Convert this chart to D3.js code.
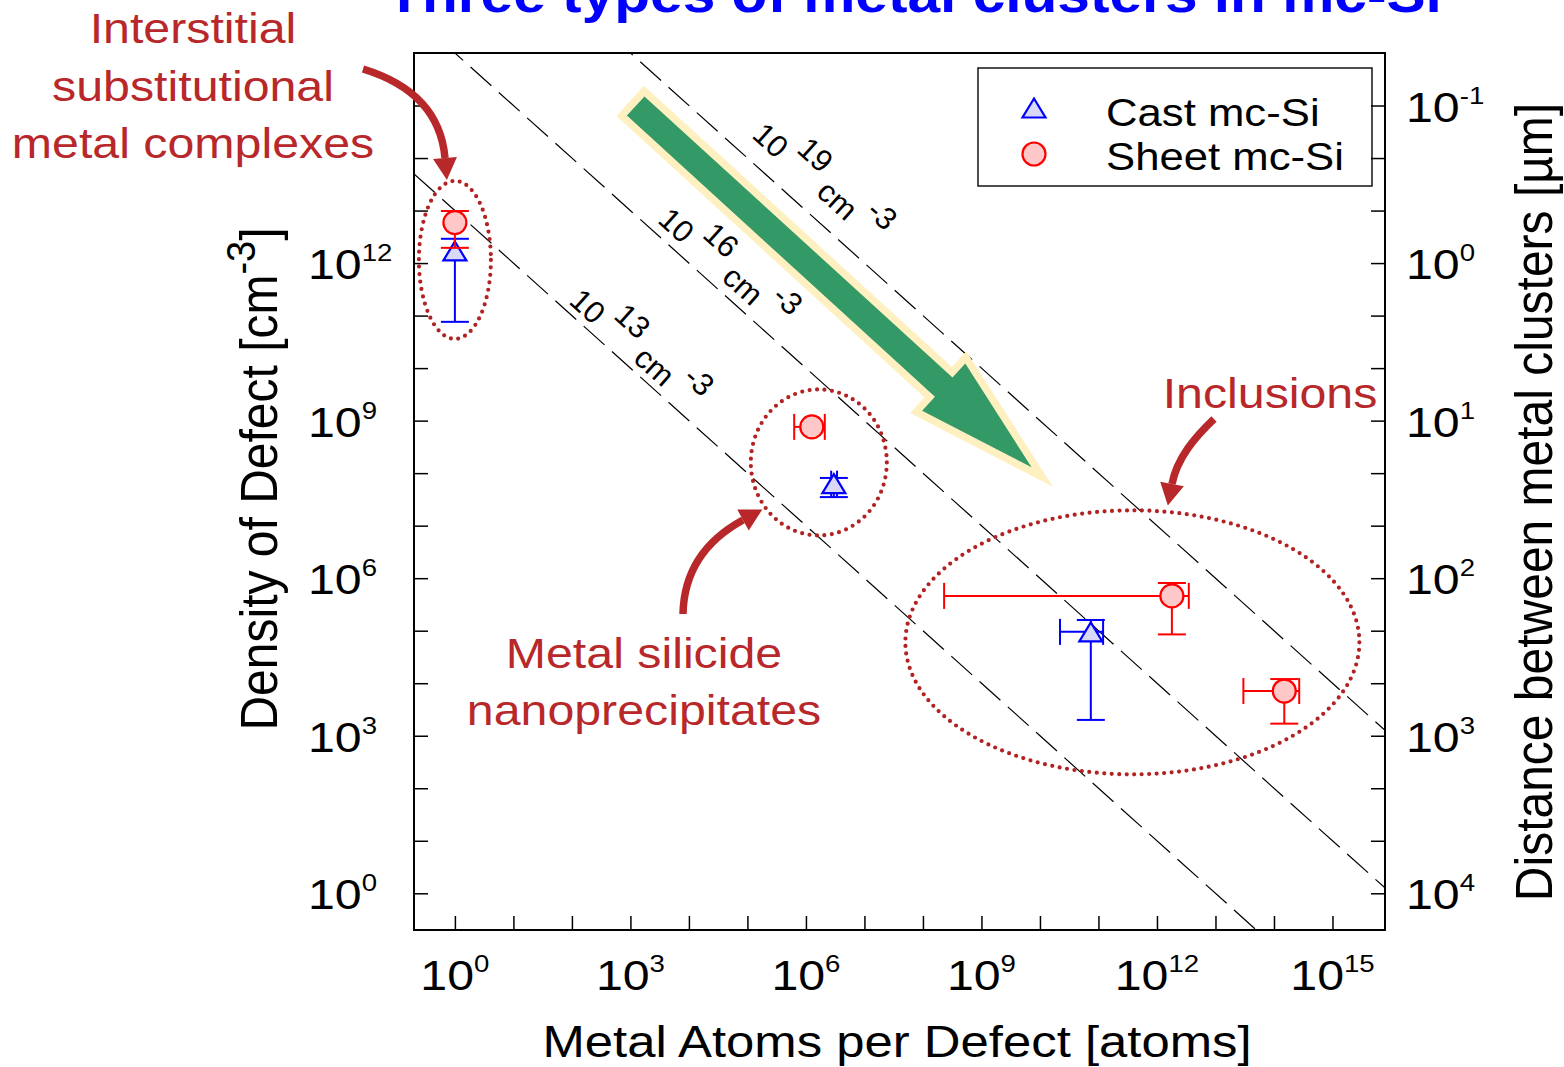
<!DOCTYPE html>
<html>
<head>
<meta charset="utf-8">
<script src="https://cdn.jsdelivr.net/npm/d3@7"></script>
<style>
  html, body { margin: 0; padding: 0; background: #ffffff; }
  svg { display: block; font-family: "Liberation Sans", Arial, Helvetica, sans-serif; }
</style>
</head>
<body>
<svg id="chart" width="1564" height="1067"></svg>
<script>
// ---- Data: metal atoms per defect (x) vs. density of defects (y) ----
// Cast mc-Si
const castAtoms     = [1, 3.0e6, 7.4e10];
const castAtomsLo   = [null, 2.7e6, 2.2e10];
const castAtomsHi   = [null, 3.4e6, 1.2e11];
const castDensity   = [1.7e12, 6.3e7, 9.5e4];
const castDensityLo = [7.6e10, 3.5e7, 2.0e3];
const castDensityHi = [2.9e12, 8.1e7, 1.6e5];

// Sheet mc-Si
const sheetAtoms     = [1, 1.26e6, 1.8e12, 1.5e14];
const sheetAtomsLo   = [null, 6.3e5, 2.3e8, 3.0e13];
const sheetAtomsHi   = [null, 2.1e6, 3.5e12, 2.7e14];
const sheetDensity   = [5.9e12, 7.6e8, 4.6e5, 7.1e3];
const sheetDensityLo = [1.95e12, null, 8.5e4, 1.7e3];
const sheetDensityHi = [9.8e12, null, 8.1e5, 1.2e4];

// Iso-concentration lines (total metal concentration, cm^-3)
const concentrations   = [1e13, 1e16, 1e19];
const concExponents    = ["13", "16", "19"];
const concLabelAnchors = [[85, 1.75e11], [2.78e3, 6.1e12], [1.14e5, 2.55e14]];

// Axes
const xDomain = [0.2, 7.9e15];
const yDomain = [0.2, 1e16];
const xTickExponents    = ["0", "3", "6", "9", "12", "15"];
const yTickExponents    = ["0", "3", "6", "9", "12"];
const distTickExponents = ["-1", "0", "1", "2", "3", "4"];

// Trend arrow (from small clusters at high density to large clusters at low density)
const trendFrom = [1.23e3, 9.8e14];
const trendTo   = [7.2e9, 1.29e8];

// ---- Layout ----
const plot = { left: 414, right: 1385, top: 53, bottom: 930 };
const NOTE = "#B8282A";
const TEXT_SX = 1.15;

const svg = d3.select("#chart");
const x = d3.scaleLog().domain(xDomain).range([plot.left, plot.right]);
const y = d3.scaleLog().domain(yDomain).range([plot.bottom, plot.top]);
// distance between clusters in µm: d = 1e4 * N^(-1/3)
const toDist = n => 1e4 * Math.pow(n, -1 / 3);
const yDist = d3.scaleLog().domain([toDist(yDomain[0]), toDist(yDomain[1])]).range([plot.bottom, plot.top]);

svg.append("defs").append("clipPath").attr("id", "plotClip")
  .append("rect")
  .attr("x", plot.left).attr("y", plot.top)
  .attr("width", plot.right - plot.left).attr("height", plot.bottom - plot.top);

// ---- Title (runs off the top edge of the page) ----
svg.append("text")
  .attr("transform", `translate(914,12) scale(${TEXT_SX},1)`)
  .attr("text-anchor", "middle")
  .attr("font-size", 51).attr("font-weight", "bold").attr("fill", "#0000ff")
  .text("Three types of metal clusters in mc-Si");

const inner = svg.append("g").attr("clip-path", "url(#plotClip)");

// ---- Iso-concentration dashed lines ----
const line = d3.line().x(d => x(d[0])).y(d => y(d[1]));
concentrations.forEach(c => {
  inner.append("path")
    .attr("d", line([[xDomain[0], c / xDomain[0]], [xDomain[1], c / xDomain[1]]]))
    .attr("fill", "none").attr("stroke", "#000").attr("stroke-width", 1.2)
    .attr("stroke-dasharray", "28,10");
});

const slopeDeg = Math.atan2(y(0.1) - y(1), x(10) - x(1)) * 180 / Math.PI;
concentrations.forEach((c, i) => {
  const [ax, ay] = concLabelAnchors[i];
  const t = svg.append("text")
    .attr("transform", `translate(${x(ax)},${y(ay)}) rotate(${slopeDeg})`)
    .attr("font-size", 31).attr("fill", "#000");
  t.append("tspan").text("10\u00A0");
  t.append("tspan").attr("dy", -19).text(concExponents[i]);
  t.append("tspan").attr("dy", 19).text("\u00A0cm\u00A0");
  t.append("tspan").attr("dy", -19).text("-3");
});

// ---- Trend arrow ----
(function () {
  const p0 = [x(trendFrom[0]), y(trendFrom[1])];
  const p1 = [x(trendTo[0]), y(trendTo[1])];
  const dx = p1[0] - p0[0], dy = p1[1] - p0[1];
  const L = Math.hypot(dx, dy);
  const u = [dx / L, dy / L], n = [-u[1], u[0]];
  const hw = 13, hh = 32, hl = 119;
  const base = [p1[0] - u[0] * hl, p1[1] - u[1] * hl];
  const pt = (p, k) => [p[0] + n[0] * k, p[1] + n[1] * k];
  const poly = [pt(p0, hw), pt(base, hw), pt(base, hh), p1, pt(base, -hh), pt(base, -hw), pt(p0, -hw)];
  const d = "M" + poly.map(p => p.join(",")).join("L") + "Z";
  svg.append("path").attr("d", d).attr("fill", "#FEF0C0")
    .attr("stroke", "#FEF0C0").attr("stroke-width", 15).attr("stroke-linejoin", "miter");
  svg.append("path").attr("d", d).attr("fill", "#339966");
})();

// ---- Cluster-group ellipses (dotted) ----
const groups = [
  { cx: 1, cy: 1.15e12, rx: 36, ry: 79 },
  { cx: 1.66e6, cy: 1.6e8, rx: 68, ry: 73 },
  { cx: 3.8e11, cy: 6.0e4, rx: 227, ry: 132 }
];
groups.forEach(g => {
  svg.append("ellipse")
    .attr("cx", x(g.cx)).attr("cy", y(g.cy)).attr("rx", g.rx).attr("ry", g.ry)
    .attr("fill", "none").attr("stroke", "#B22222").attr("stroke-width", 4.2)
    .attr("stroke-linecap", "round").attr("stroke-dasharray", "0,7.5");
});

// ---- Data with error bars ----
function drawSeries(atoms, atomsLo, atomsHi, dens, densLo, densHi, color, marker) {
  const g = svg.append("g").attr("stroke", color).attr("stroke-width", 2).attr("fill", "none");
  atoms.forEach((a, i) => {
    const px = x(a), py = y(dens[i]);
    if (atomsLo[i] != null) {
      const l = x(atomsLo[i]), r = x(atomsHi[i]);
      g.append("line").attr("x1", l).attr("x2", r).attr("y1", py).attr("y2", py);
      g.append("line").attr("x1", l).attr("x2", l).attr("y1", py - 13).attr("y2", py + 13);
      g.append("line").attr("x1", r).attr("x2", r).attr("y1", py - 13).attr("y2", py + 13);
    }
    if (densLo[i] != null) {
      const b = y(densLo[i]), t = y(densHi[i]);
      g.append("line").attr("x1", px).attr("x2", px).attr("y1", t).attr("y2", b);
      g.append("line").attr("x1", px - 14).attr("x2", px + 14).attr("y1", t).attr("y2", t);
      g.append("line").attr("x1", px - 14).attr("x2", px + 14).attr("y1", b).attr("y2", b);
    }
    marker(svg, px, py);
  });
}
const triangle = (sel, px, py) => sel.append("path")
  .attr("d", "M0,-9.5L11.5,9.5L-11.5,9.5Z")
  .attr("transform", `translate(${px},${py})`)
  .attr("fill", "#D9D9F7").attr("stroke", "#0000ff").attr("stroke-width", 2.2);
const circle = (sel, px, py) => sel.append("circle")
  .attr("cx", px).attr("cy", py).attr("r", 11.5)
  .attr("fill", "#FFC8C8").attr("stroke", "#ff0000").attr("stroke-width", 2.2);

drawSeries(castAtoms, castAtomsLo, castAtomsHi, castDensity, castDensityLo, castDensityHi, "#0000ff", triangle);
drawSeries(sheetAtoms, sheetAtomsLo, sheetAtomsHi, sheetDensity, sheetDensityLo, sheetDensityHi, "#ff0000", circle);

// ---- Legend ----
const legend = svg.append("g");
legend.append("rect").attr("x", 978).attr("y", 68).attr("width", 394).attr("height", 118)
  .attr("fill", "#fff").attr("stroke", "#222").attr("stroke-width", 1.6);
triangle(legend, 1034, 108);
circle(legend, 1034, 154);
[["Cast mc-Si", 126], ["Sheet mc-Si", 170]].forEach(([label, by]) => {
  legend.append("text").attr("transform", `translate(1106,${by}) scale(${TEXT_SX},1)`)
    .attr("font-size", 38).attr("fill", "#000").text(label);
});

// ---- Frame and axes ----
const decadeTicks = d3.range(0, 16).map(e => Math.pow(10, e));
const styleAxis = g => {
  g.select(".domain").remove();
  g.selectAll(".tick line").attr("stroke", "#000").attr("stroke-width", 1.5);
};
svg.append("g").attr("transform", `translate(0,${plot.bottom})`)
  .call(d3.axisBottom(x).tickValues(decadeTicks).tickSize(-14).tickFormat(""))
  .call(styleAxis);
svg.append("g").attr("transform", `translate(${plot.left},0)`)
  .call(d3.axisLeft(y).tickValues(decadeTicks).tickSize(-14).tickFormat(""))
  .call(styleAxis);
svg.append("g").attr("transform", `translate(${plot.right},0)`)
  .call(d3.axisRight(y).tickValues(decadeTicks).tickSize(-14).tickFormat(""))
  .call(styleAxis);

svg.append("rect")
  .attr("x", plot.left).attr("y", plot.top)
  .attr("width", plot.right - plot.left).attr("height", plot.bottom - plot.top)
  .attr("fill", "none").attr("stroke", "#000").attr("stroke-width", 2);

function powerLabel(px, py, exp, anchor) {
  const t = svg.append("text")
    .attr("transform", `translate(${px},${py}) scale(${TEXT_SX},1)`)
    .attr("text-anchor", anchor).attr("font-size", 42).attr("fill", "#000");
  t.append("tspan").text("10");
  t.append("tspan").attr("dy", -18).attr("font-size", 24).text(exp);
}
xTickExponents.forEach(e => powerLabel(x(Math.pow(10, +e)), 990, e, "middle"));
yTickExponents.forEach(e => powerLabel(308, y(Math.pow(10, +e)) + 16, e, "start"));
distTickExponents.forEach(e => powerLabel(1406, yDist(Math.pow(10, +e)) + 16, e, "start"));

// ---- Axis titles ----
svg.append("text")
  .attr("transform", `translate(897,1057) scale(1.13,1)`)
  .attr("text-anchor", "middle").attr("font-size", 45).attr("fill", "#000")
  .text("Metal Atoms per Defect [atoms]");

(function () {
  const t = svg.append("text")
    .attr("transform", `translate(277,479) scale(1.08,1) rotate(-90)`)
    .attr("text-anchor", "middle").attr("font-size", 48).attr("fill", "#000");
  t.append("tspan").text("Density of Defect [cm");
  t.append("tspan").attr("dy", -20).attr("font-size", 38).text("-3");
  t.append("tspan").attr("dy", 20).text("]");
})();

svg.append("text")
  .attr("transform", `translate(1552,502) scale(1.08,1) rotate(-90)`)
  .attr("text-anchor", "middle").attr("font-size", 48).attr("fill", "#000")
  .text("Distance between metal clusters [\u00B5m]");

// ---- Callout notes ----
function noteText(lines, cx, firstBaseline, step) {
  lines.forEach((s, i) => {
    svg.append("text")
      .attr("transform", `translate(${cx},${firstBaseline + i * step}) scale(${TEXT_SX},1)`)
      .attr("text-anchor", "middle").attr("font-size", 42).attr("fill", NOTE).text(s);
  });
}
noteText(["Interstitial", "substitutional", "metal complexes"], 193, 43, 57.5);
noteText(["Metal silicide", "nanoprecipitates"], 644, 668, 57);
noteText(["Inclusions"], 1270, 408, 0);

function curvedArrow(p0, c1, c2, p3) {
  svg.append("path")
    .attr("d", `M${p0}C${c1} ${c2} ${p3}`)
    .attr("fill", "none").attr("stroke", NOTE).attr("stroke-width", 7.5);
  const dx = p3[0] - c2[0], dy = p3[1] - c2[1], L = Math.hypot(dx, dy);
  const u = [dx / L, dy / L], n = [-u[1], u[0]];
  const tip = [p3[0] + u[0] * 22, p3[1] + u[1] * 22];
  const a = [p3[0] + n[0] * 12, p3[1] + n[1] * 12];
  const b = [p3[0] - n[0] * 12, p3[1] - n[1] * 12];
  svg.append("path").attr("d", `M${a}L${tip}L${b}Z`).attr("fill", NOTE);
}
curvedArrow([363, 69], [412, 84], [441, 112], [445, 158]);
curvedArrow([683, 614], [684, 566], [710, 538], [743, 520]);
curvedArrow([1214, 419], [1195, 437], [1177, 458], [1172, 484]);
</script>
</body>
</html>
